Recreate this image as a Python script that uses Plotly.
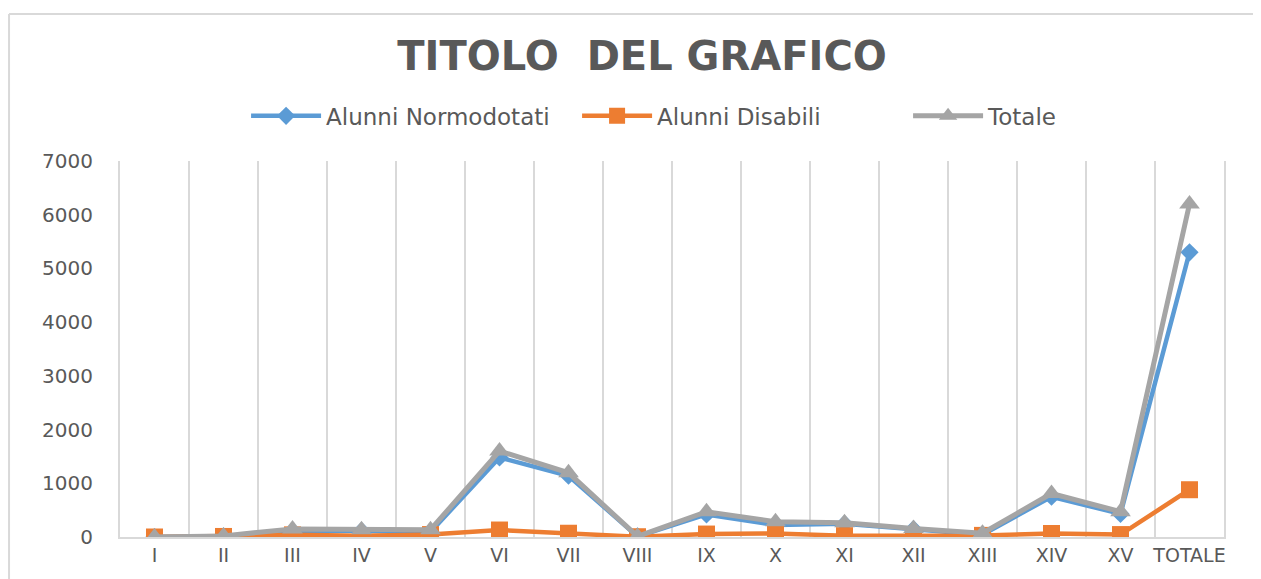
import plotly.graph_objects as go

# categorie (classi) e valori
classi = ["I", "II", "III", "IV", "V", "VI", "VII", "VIII", "IX", "X",
          "XI", "XII", "XIII", "XIV", "XV", "TOTALE"]
normodotati = [0, 10, 110, 115, 95, 1480, 1140, 10, 420, 225, 245, 145, 45, 750, 430, 5300]
disabili = [0, 10, 40, 25, 45, 130, 70, 5, 55, 65, 25, 20, 30, 65, 45, 880]
totale = [0, 20, 150, 135, 135, 1600, 1195, 10, 470, 285, 265, 160, 70, 810, 470, 6200]

testo = "#595959"
griglia = "#D9D9D9"

fig = go.Figure()
fig.add_trace(go.Scatter(x=classi, y=normodotati, name="Alunni Normodotati", mode="lines+markers",
                         line=dict(color="#5B9BD5", width=4.5),
                         marker=dict(symbol="diamond", size=14, color="#5B9BD5")))
fig.add_trace(go.Scatter(x=classi, y=disabili, name="Alunni Disabili", mode="lines+markers",
                         line=dict(color="#ED7D31", width=4.5),
                         marker=dict(symbol="square", size=17, color="#ED7D31")))
fig.add_trace(go.Scatter(x=classi, y=totale, name="Totale", mode="lines+markers",
                         line=dict(color="#A5A5A5", width=5),
                         marker=dict(symbol="triangle-up", size=18, color="#A5A5A5")))

# la pagina ha un margine di 8px: la figura e' piu' piccola di 8px
fig.update_layout(
    width=1253,
    height=571,
    margin=dict(l=112, r=37, t=153, b=42, autoexpand=False),
    plot_bgcolor="white",
    paper_bgcolor="white",
    font=dict(family="DejaVu Sans", color=testo),
    title=dict(text="<b>TITOLO  DEL GRAFICO</b>", x=0.506, xanchor="center", y=0.916, yanchor="middle",
               font=dict(family="DejaVu Sans", size=40, color=testo)),
    legend=dict(orientation="h", x=0.1142, xanchor="left", y=1.12, yanchor="middle",
                font=dict(size=23, color=testo), itemwidth=70, entrywidth=246,
                bgcolor="rgba(0,0,0,0)"),
    xaxis=dict(
        type="category",
        range=[-0.5, 15.5],
        tickson="boundaries",
        showgrid=True,
        gridcolor=griglia,
        gridwidth=2,
        showline=True,
        linecolor=griglia,
        linewidth=2,
        ticks="",
        tickangle=0,
        automargin=False,
        tickfont=dict(size=19, color=testo),
        fixedrange=True,
    ),
    yaxis=dict(
        range=[0, 7000],
        dtick=1000,
        showgrid=False,
        zeroline=False,
        showline=True,
        mirror=True,
        linecolor=griglia,
        linewidth=2,
        ticks="",
        automargin=False,
        tickfont=dict(size=20, color=testo),
        ticklabelstandoff=21,
        fixedrange=True,
    ),
    shapes=[
        dict(type="line", xref="paper", yref="paper", x0=-0.1005, x1=1.04, y0=1.391, y1=1.391,
             line=dict(color=griglia, width=2), layer="below"),
        dict(type="line", xref="paper", yref="paper", x0=-0.1005, x1=-0.1005, y0=1.391, y1=-0.2,
             line=dict(color=griglia, width=2), layer="below"),
    ],
)

fig.write_html("out.html")
